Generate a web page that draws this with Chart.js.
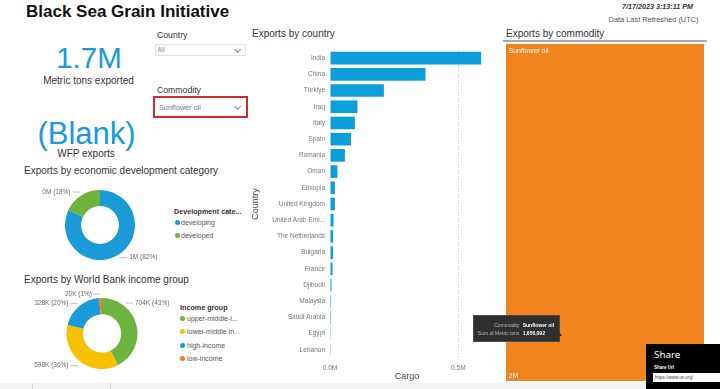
<!DOCTYPE html>
<html><head><meta charset="utf-8">
<script src="https://cdn.jsdelivr.net/npm/chart.js@4.4.0/dist/chart.umd.min.js"></script>
<style>
html,body{margin:0;padding:0;width:720px;height:389px;overflow:hidden;background:#fff;font-family:'Liberation Sans',Arial,sans-serif;}
.a{position:absolute;white-space:nowrap;line-height:1;}
canvas{position:absolute;}
.chev{position:absolute;width:4px;height:4px;border-right:1px solid #8a8a8a;border-bottom:1px solid #8a8a8a;transform:rotate(45deg);}
.dot{position:absolute;width:5px;height:5px;border-radius:50%;}
</style></head><body>
<script>
// ---------- data ----------
const countries = ['India','China','Türkiye','Iraq','Italy','Spain','Romania','Oman','Ethiopia','United Kingdom','United Arab Emirates','The Netherlands','Bulgaria','France','Djibouti','Malaysia','Saudi Arabia','Egypt','Lebanon'];
const cargoTons = [589000,372000,210000,107000,97000,82000,58000,29000,19000,19000,14000,12000,12000,10000,6000,4000,4000,3000,3000];
const xTickValues = [0, 500000];
const commodities = ['Sunflower oil'];
const commodityTons = [1650092];
const devCategories = ['developing','developed'];
const devTons = [1353075, 297017];
const incomeGroups = ['upper-middle-income','lower-middle income','high-income','low-income'];
const incomeTons = [704000, 598000, 328000, 20092];
const wfpExports = null;
const countryFilter = 'All';
const commodityFilter = 'Sunflower oil';
const refreshedAt = '7/17/2023 3:13:11 PM';
</script>

<div class="a" style="left:26px;top:2.5px;font-size:17px;font-weight:bold;color:#111">Black Sea Grain Initiative</div>
<div class="a" id="kpi1" style="left:0;width:178px;text-align:center;top:43px;font-size:29.5px;color:#1a9ad8"></div>
<div class="a" style="left:0;width:177px;text-align:center;top:76px;font-size:10px;color:#333">Metric tons exported</div>
<div class="a" id="kpi2" style="left:0;width:173px;text-align:center;top:118px;font-size:31px;color:#1a9ad8"></div>
<div class="a" style="left:0;width:172px;text-align:center;top:149px;font-size:10px;color:#333">WFP exports</div>

<div class="a" style="left:157px;top:30.7px;font-size:8.7px;color:#333">Country</div>
<div class="a" style="left:155px;top:44px;width:91px;height:12px;border:1px solid #e4e4e4;box-sizing:border-box"></div>
<div class="a" id="f1" style="left:157.5px;top:46.8px;font-size:6.5px;color:#888"></div>
<div class="chev" style="left:235px;top:46.5px"></div>

<div class="a" style="left:157px;top:86.4px;font-size:8.7px;color:#333">Commodity</div>
<div class="a" style="left:153px;top:96px;width:95px;height:22px;border:2px solid #d42a2f;box-sizing:border-box"></div>
<div class="a" id="f2" style="left:159px;top:103.5px;font-size:7.3px;color:#777"></div>
<div class="chev" style="left:235px;top:103.5px"></div>

<div class="a" style="left:24px;top:166px;font-size:10px;color:#333">Exports by economic development category</div>
<div class="a" style="left:24px;top:275px;font-size:10px;color:#333">Exports by World Bank income group</div>
<div class="a" style="left:252px;top:28.5px;font-size:10px;color:#333">Exports by country</div>
<div class="a" style="left:506px;top:28.5px;font-size:10px;color:#333">Exports by commodity</div>
<div class="a" style="left:503px;top:40px;width:204px;height:1.5px;background:#a8a8a8"></div>

<div class="a" id="ref" style="right:27px;top:3.2px;font-size:7.2px;font-weight:bold;font-style:italic;color:#333"></div>
<div class="a" style="right:21.5px;top:15.6px;font-size:7.4px;color:#555">Data Last Refreshed (UTC)</div>

<div id="leg1"></div>
<div id="leg2"></div>

<canvas id="d1" width="160" height="90" style="left:19.5px;top:180px"></canvas>
<canvas id="d2" width="160" height="93" style="left:22px;top:287px"></canvas>
<canvas id="bar" width="248" height="344" style="left:248px;top:40px"></canvas>
<canvas id="tm" width="198" height="337" style="left:506px;top:44px"></canvas>

<div class="a" style="left:473px;top:315px;width:87px;height:27px;background:#2f2f2f;border:1px solid #4a4a4a;box-sizing:border-box"></div>
<div class="a" style="left:558px;top:332px;width:0;height:0;border-top:3px solid transparent;border-bottom:3px solid transparent;border-left:4px solid #2f2f2f"></div>
<div class="a" style="left:470px;width:49.5px;text-align:right;top:323px;font-size:5px;color:#bbb">Commodity</div>
<div class="a" style="left:470px;width:49.5px;text-align:right;top:330.5px;font-size:5px;color:#bbb">Sum of Metric tons</div>
<div class="a" id="tt1" style="left:522.7px;top:323px;font-size:5px;font-weight:bold;color:#fff"></div>
<div class="a" id="tt2" style="left:522.7px;top:330.5px;font-size:5px;font-weight:bold;color:#fff"></div>

<div class="a" style="left:0;top:383px;width:720px;height:6px;background:#f2f2f2"></div>
<div class="a" style="left:32px;top:383px;width:1px;height:6px;background:#d6d6d6"></div>
<div class="a" style="left:110px;top:383px;width:1px;height:6px;background:#d6d6d6"></div>

<div class="a" style="left:646px;top:344px;width:74px;height:45px;background:#000"></div>
<div class="a" style="left:654px;top:350px;font-size:9.8px;color:#fff;font-family:'Noto Sans',sans-serif">Share</div>
<div class="a" style="left:654px;top:365.5px;font-size:4.5px;font-weight:bold;color:#fff">Share Url</div>
<div class="a" style="left:653px;top:373px;width:67px;height:9px;background:#fff"></div>
<div class="a" style="left:655px;top:375.7px;font-size:4.5px;color:#444">https://www.un.org/</div>

<script>
const FONT = "'Liberation Sans', Arial, sans-serif";
const mctx = document.createElement('canvas').getContext('2d');
function clip(s, font, maxW){
  mctx.font = font;
  if (mctx.measureText(s).width <= maxW) return s;
  let t = s;
  while (t.length > 1 && mctx.measureText(t + '...').width > maxW) t = t.slice(0, -1);
  return t + '...';
}
const sum = a => a.reduce((x,y)=>x+y,0);
const total = sum(commodityTons);
document.getElementById('kpi1').textContent = (total/1e6).toFixed(1) + 'M';
document.getElementById('kpi2').textContent = wfpExports == null ? '(Blank)' : wfpExports;
document.getElementById('f1').textContent = countryFilter;
document.getElementById('f2').textContent = commodityFilter;
document.getElementById('ref').textContent = refreshedAt;
document.getElementById('tt1').textContent = commodities[0];
document.getElementById('tt2').textContent = total.toLocaleString('en-US');

const blue = '#1a9bd7', green = '#6db33f', yellow = '#f6c200', orange = '#f07d22';
const devColors = [blue, green];
const incColors = [green, yellow, blue, orange];

function legend(id, title, names, colors, x0, yTitle, xDot, xText, ys, titleMax, itemMax){
  let h = `<div class="a" style="left:${x0}px;top:${yTitle-3.6}px;font-size:7.2px;font-weight:bold;color:#333">${clip(title,'bold 7.2px '+FONT,titleMax)}</div>`;
  names.forEach((n,i)=>{
    h += `<div class="dot" style="left:${xDot-2.5}px;top:${ys[i]-2.5}px;background:${colors[i]}"></div>`;
    h += `<div class="a" style="left:${xText}px;top:${ys[i]-3.5}px;font-size:7px;color:#555">${clip(n,'7px '+FONT,itemMax)}</div>`;
  });
  document.getElementById(id).innerHTML = h;
}
legend('leg1','Development category',devCategories,devColors,174,211.7,177,181,[222,235.7],69,53.7);
legend('leg2','Income group',incomeGroups,incColors,180,307.3,182.5,187,[318.3,331.7,345,358.3],69,53.7);

const leaders = {
  id:'leaders',
  afterDatasetsDraw(chart, args, opts){
    const ctx = chart.ctx, data = chart.data.datasets[0].data, tot = sum(data);
    ctx.save();
    ctx.font = '6.5px ' + FONT; ctx.fillStyle = '#6a6a6a'; ctx.strokeStyle = '#b0b0b0'; ctx.lineWidth = 0.8;
    ctx.textBaseline = 'middle';
    opts.spots.forEach((s,i)=>{
      const txt = opts.fmt(data[i]) + ' (' + Math.round(data[i]/tot*100) + '%)';
      const x = s[0]-opts.ox, y = s[1]-opts.oy;
      ctx.textAlign = s[2];
      ctx.fillText(txt, x, y);
      ctx.beginPath(); ctx.moveTo(s[3]-opts.ox, y); ctx.lineTo(s[4]-opts.ox, y); ctx.stroke();
    });
    ctx.restore();
  }
};
function donut(id, labels, values, colors, pad, spots, fmt, ox, oy){
  return new Chart(document.getElementById(id), {
    type:'doughnut',
    data:{labels, datasets:[{data:values, backgroundColor:colors, borderWidth:0}]},
    options:{responsive:false, animation:false, cutout:'54%',
      layout:{padding:{top:pad,bottom:pad,left:0,right:0}},
      plugins:{legend:{display:false}, tooltip:{enabled:false}, leaders:{spots, fmt, ox, oy}}},
    plugins:[leaders]
  });
}
donut('d1', devCategories, devTons, devColors, 10,
  [[128.7,257.7,'left',119,126.5],[70,192,'right',72.5,80]],
  v => Math.round(v/1e6)+'M', 19.5, 180);
donut('d2', incomeGroups, incomeTons, incColors, 11,
  [[135,303,'left',126,133],[68.5,365.7,'right',70.5,78],[68.5,303.3,'right',70.5,78],[92,294,'right',93.5,100]],
  v => Math.round(v/1e3)+'K', 22, 287);

new Chart(document.getElementById('bar'), {
  type:'bar',
  data:{labels:countries, datasets:[{data:cargoTons, backgroundColor:'#0c9edb', barPercentage:0.78, categoryPercentage:1}]},
  options:{indexAxis:'y', responsive:false, animation:false,
    layout:{padding:{top:10,right:12,left:0,bottom:0}},
    plugins:{legend:{display:false}, tooltip:{enabled:false}},
    scales:{
      x:{min:0, max:600000,
        afterBuildTicks: s => { s.ticks = xTickValues.map(v=>({value:v})); },
        afterFit: s => { s.height = 26; },
        ticks:{font:{size:6.5, family:FONT}, color:'#777', padding:6, callback:v => (v/1e6).toFixed(1)+'M'},
        grid:{drawTicks:false, color: c => (c.tick && c.tick.value>0) ? '#c4c4c4' : 'rgba(0,0,0,0)'},
        border:{display:false, dash:[1,2]},
        title:{display:true, text:'Cargo', font:{size:9, family:FONT}, color:'#444', padding:{top:0,bottom:1.6}}
      },
      y:{afterFit: s => { s.width = 82; },
        ticks:{font:{size:6.5, family:FONT}, color:'#777', padding:5, autoSkip:false,
          callback:function(v){ return clip(this.getLabelForValue(v), '6.5px '+FONT, 53.5); }},
        grid:{display:false, drawTicks:false}, border:{display:false},
        title:{display:true, text:'Country', font:{size:9, family:FONT}, color:'#444', padding:{top:2.6,bottom:0}}
      }
    }
  }
});

const tmLabels = {
  id:'tmLabels',
  afterDatasetsDraw(chart){
    const ctx = chart.ctx;
    chart.getDatasetMeta(0).data.forEach((bar,i)=>{
      const p = bar.getProps(['x','y','base','width']);
      const left = p.x - p.width/2;
      ctx.save(); ctx.fillStyle = '#fff'; ctx.font = '7px ' + FONT; ctx.textBaseline = 'middle';
      ctx.fillText(chart.data.labels[i], left+2.5, p.y+7);
      ctx.fillText(Math.round(chart.data.datasets[0].data[i]/1e6)+'M', left+2.5, p.base-4.5);
      ctx.restore();
    });
  }
};
new Chart(document.getElementById('tm'), {
  type:'bar',
  data:{labels:commodities, datasets:[{data:commodityTons, backgroundColor:'#f2841f', barPercentage:1, categoryPercentage:1}]},
  options:{responsive:false, animation:false, layout:{padding:0},
    plugins:{legend:{display:false}, tooltip:{enabled:false}},
    scales:{x:{display:false}, y:{display:false, min:0, max:total}}},
  plugins:[tmLabels]
});
</script>
</body></html>
